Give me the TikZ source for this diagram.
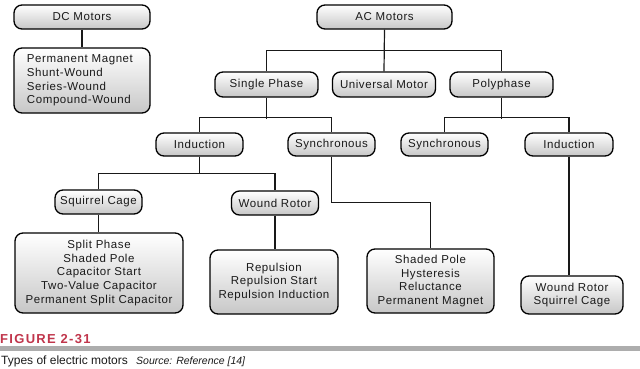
\documentclass[tikz,border=0pt]{standalone}
\usepackage{fontspec}
\setmainfont{Liberation Sans}
\usetikzlibrary{calc}
\definecolor{figred}{HTML}{C0354B}
\definecolor{txt}{HTML}{1A1A1A}
\tikzset{
  mbox/.style={draw=black, line width=1.3pt, rounded corners=8pt, top color=white, bottom color=black!22,
    inner sep=0pt, align=center, text=txt, font=\fontsize{11.5}{13.6}\selectfont\addfontfeature{LetterSpace=5}},
  conn/.style={line width=1.2pt, draw=black!90}
}
\begin{document}
\begin{tikzpicture}[x=1pt,y=-1pt]
\useasboundingbox (0,0) rectangle (640,368);
% level 0
\node[mbox, minimum width=136, minimum height=24] (dc) at (82,17) {DC Motors};
\node[mbox, minimum width=136, minimum height=65, text width=110, align=left] (dclist) at (82,80.5)
  {Permanent Magnet\\Shunt-Wound\\Series-Wound\\Compound-Wound};
\node[mbox, minimum width=135, minimum height=24] (ac) at (384.5,17) {AC Motors};
% level 1
\node[mbox, minimum width=103, minimum height=25] (single) at (266.5,84.5) {Single Phase};
\node[mbox, minimum width=103, minimum height=25] (univ) at (384,84.5) {Universal Motor};
\node[mbox, minimum width=103, minimum height=25] (poly) at (501.5,84.5) {Polyphase};
% level 2
\node[mbox, minimum width=87, minimum height=23] (ind1) at (199.5,144.5) {Induction};
\node[mbox, minimum width=87, minimum height=23] (syn1) at (331.5,144.5) {Synchronous};
\node[mbox, minimum width=87, minimum height=23] (syn2) at (444.5,144.5) {Synchronous};
\node[mbox, minimum width=88, minimum height=23] (ind2) at (569,144.5) {Induction};
% level 3
\node[mbox, minimum width=87, minimum height=24] (sq) at (98.5,202) {Squirrel Cage};
\node[mbox, minimum width=87, minimum height=24] (wr) at (275,203) {Wound Rotor};
% lists
\node[mbox, minimum width=168, minimum height=80] (sqlist) at (99,273)
  {Split Phase\\Shaded Pole\\Capacitor Start\\Two-Value Capacitor\\Permanent Split Capacitor};
\node[mbox, minimum width=128, minimum height=64] (wrlist) at (274,282)
  {Repulsion\\Repulsion Start\\Repulsion Induction};
\node[mbox, minimum width=127, minimum height=64] (shlist) at (430.5,281)
  {Shaded Pole\\Hysteresis\\Reluctance\\Permanent Magnet};
\node[mbox, minimum width=102, minimum height=38] (pilist) at (572,295)
  {Wound Rotor\\Squirrel Cage};
% connectors
\draw[conn] (dc.south) -- (dclist.north);
\draw[conn] (ac.south) -- (univ.north);
\draw[conn] (single.north) -- ++(0,-21) -| (poly.north);
\draw[conn] (single.south) -- ++(0,21);
\draw[conn] (ind1.north) -- ++(0,-15) -| (syn1.north);
\draw[conn] (poly.south) -- ++(0,21);
\draw[conn] (syn2.north) -- ++(0,-15) -| (ind2.north);
\draw[conn] (ind1.south) -- ++(0,17) coordinate (ib);
\draw[conn] (sq.north) -- (sq.north |- ib) -| (wr.north);
\draw[conn] (sq.south) -- (sq.south |- sqlist.north);
\draw[conn] (wr.south) -- (wr.south |- wrlist.north);
\draw[conn] (syn1.south) -- ++(0,46) coordinate (sb) -| (shlist.north);
\draw[conn] (ind2.south) -- (ind2.south |- pilist.north);
% caption
\node[anchor=base west, inner sep=0, text=figred, font=\fontsize{13}{15}\selectfont\bfseries\addfontfeature{LetterSpace=10}] (fig) at (0,343) {FIGURE 2-31};
\fill[black!32] (0,346) rectangle (640,351);
\node[anchor=base west, inner sep=0, text=txt, font=\fontsize{12}{14}\selectfont] (cap) at (1,364) {Types of electric motors};
\node[anchor=base west, inner sep=0, text=txt, font=\fontsize{10.5}{12}\selectfont\itshape] (src) at (136,364) {Source: Reference [14]};
\end{tikzpicture}
\end{document}
